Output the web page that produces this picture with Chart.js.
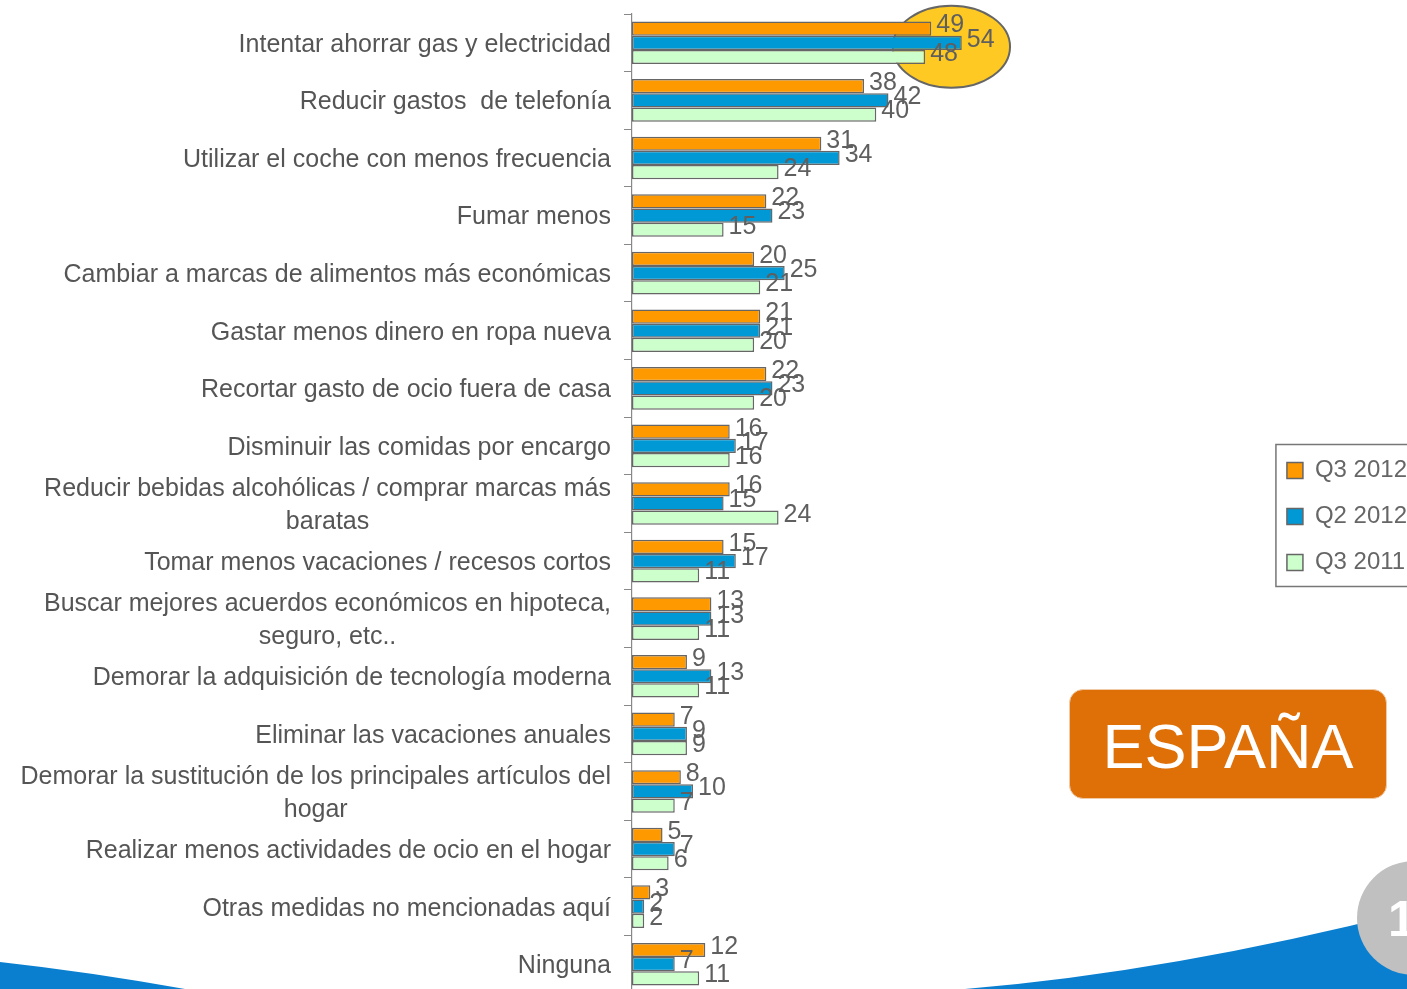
<!DOCTYPE html>
<html>
<head>
<meta charset="utf-8">
<script src="https://cdn.jsdelivr.net/npm/chart.js@4"></script>
<style>
  body { margin: 0; background: #fff; }
  #wrap { position: relative; width: 1407px; height: 989px; overflow: hidden; }
  #plot { position: absolute; left: 0; top: 0; width: 1407px; height: 994px; }
  #badge {
    position: absolute; left: 1069px; top: 689px; width: 318px; height: 110px;
    background: #df7008; border-radius: 14px; border: 1px solid #f0c9a6;
    box-sizing: border-box; color: #fff;
    font: 63px "Liberation Sans", Arial, sans-serif;
    display: flex; align-items: center; justify-content: center; padding-top: 4px;
  }
</style>
</head>
<body>
<div id="wrap">
  <div id="plot"><canvas id="barChart"></canvas></div>
  <div id="badge">ESPAÑA</div>
</div>
<script>
const categories = [
    "Intentar ahorrar gas y electricidad",
    "Reducir gastos  de telefonía",
    "Utilizar el coche con menos frecuencia",
    "Fumar menos",
    "Cambiar a marcas de alimentos más económicas",
    "Gastar menos dinero en ropa nueva",
    "Recortar gasto de ocio fuera de casa",
    "Disminuir las comidas por encargo",
    ["Reducir bebidas alcohólicas / comprar marcas más", "baratas"],
    "Tomar menos vacaciones / recesos cortos",
    ["Buscar mejores acuerdos económicos en hipoteca,", "seguro, etc.."],
    "Demorar la adquisición de tecnología moderna",
    "Eliminar las vacaciones anuales",
    ["Demorar la sustitución de los principales artículos del", "hogar"],
    "Realizar menos actividades de ocio en el hogar",
    "Otras medidas no mencionadas aquí",
    "Ninguna"
];
const seriesNames = ["Q3 2012", "Q2 2012", "Q3 2011"];
const q3_2012 = [49, 38, 31, 22, 20, 21, 22, 16, 16, 15, 13, 9, 7, 8, 5, 3, 12];
const q2_2012 = [54, 42, 34, 23, 25, 21, 23, 17, 15, 17, 13, 13, 9, 10, 7, 2, 7];
const q3_2011 = [48, 40, 24, 15, 21, 20, 20, 16, 24, 11, 11, 11, 9, 7, 6, 2, 11];

const labelFont = '25px "Liberation Sans", Arial, sans-serif';
const valueFont = '25px "Liberation Sans Narrow", "Liberation Sans", Arial, sans-serif';

// background decoration: blue swooshes and page number circle
const decoPlugin = {
    id: 'deco',
    afterLayout(chart) {
        // nudge the legend to where it sits in the slide
        const lg = chart.legend;
        lg.left += 10; lg.right += 10;
        lg.top += 13; lg.bottom += 13;
    },
    beforeDraw(chart) {
        const ctx = chart.ctx;
        const h = chart.height;
        ctx.save();
        ctx.fillStyle = '#0a7fd0';
        ctx.beginPath();
        ctx.moveTo(0, 962);
        ctx.quadraticCurveTo(90, 972, 185, 989);
        ctx.lineTo(185, h);
        ctx.lineTo(0, h);
        ctx.closePath();
        ctx.fill();
        ctx.beginPath();
        ctx.moveTo(965, 989);
        ctx.quadraticCurveTo(1170, 972, 1407, 912);
        ctx.lineTo(1407, h);
        ctx.lineTo(965, h);
        ctx.closePath();
        ctx.fill();
        ctx.fillStyle = '#c0c0c0';
        ctx.beginPath();
        ctx.arc(1414, 918, 57, 0, Math.PI * 2);
        ctx.fill();
        ctx.fillStyle = '#fff';
        ctx.font = 'bold 50px "Liberation Sans", Arial, sans-serif';
        ctx.textBaseline = 'alphabetic';
        ctx.fillText('1', 1388, 936);
        ctx.restore();
    },
    beforeDatasetsDraw(chart) {
        // yellow highlight ellipse around the first group
        const x = chart.scales.x, y = chart.scales.y;
        const ctx = chart.ctx;
        const cx = x.getPixelForValue(52.3);
        const rx = x.getPixelForValue(9.6) - x.getPixelForValue(0);
        const cy = y.getPixelForValue(0) + 4;
        ctx.save();
        ctx.fillStyle = '#fdc922';
        ctx.strokeStyle = '#666';
        ctx.lineWidth = 2;
        ctx.beginPath();
        ctx.ellipse(cx, cy, rx, 41, 0, 0, Math.PI * 2);
        ctx.fill();
        ctx.stroke();
        ctx.restore();
    }
};

// category labels, right aligned, multi-line blocks centred
const catLabelPlugin = {
    id: 'catLabels',
    afterDraw(chart) {
        const ctx = chart.ctx;
        const y = chart.scales.y;
        const right = y.right - 21;
        ctx.save();
        ctx.font = labelFont;
        ctx.fillStyle = '#555';
        ctx.textBaseline = 'middle';
        ctx.textAlign = 'center';
        categories.forEach((c, i) => {
            const lines = Array.isArray(c) ? c : [c];
            const widest = Math.max(...lines.map(l => ctx.measureText(l).width));
            const cy = y.getPixelForTick(i);
            const lh = 33;
            const y0 = cy - (lines.length - 1) * lh / 2 + 2;
            lines.forEach((l, k) => {
                ctx.fillText(l, right - widest / 2, y0 + k * lh);
            });
        });
        ctx.restore();
    }
};

// value labels right of each bar
const valueLabelPlugin = {
    id: 'valueLabels',
    afterDatasetsDraw(chart) {
        const ctx = chart.ctx;
        ctx.save();
        ctx.font = valueFont;
        ctx.fillStyle = '#5f5f5f';
        ctx.textBaseline = 'middle';
        ctx.textAlign = 'left';
        chart.data.datasets.forEach((ds, di) => {
            const meta = chart.getDatasetMeta(di);
            meta.data.forEach((bar, i) => {
                ctx.fillText(ds.data[i], bar.x + 5, bar.y - 3);
            });
        });
        ctx.restore();
    }
};

// border round the legend
const legendBoxPlugin = {
    id: 'legendBox',
    afterDraw(chart) {
        const hb = chart.legend.legendHitBoxes;
        if (!hb || !hb.length) return;
        const left = Math.min(...hb.map(h => h.left)) - 11;
        const top = Math.min(...hb.map(h => h.top)) - 14;
        const bottom = Math.max(...hb.map(h => h.top + h.height)) + 12;
        const ctx = chart.ctx;
        ctx.save();
        ctx.strokeStyle = '#777';
        ctx.lineWidth = 1.5;
        ctx.strokeRect(left, top, chart.width + 10 - left, bottom - top);
        ctx.restore();
    }
};

const ctx = document.getElementById('barChart').getContext('2d');
new Chart(ctx, {
    type: 'bar',
    data: {
        labels: categories,
        datasets: [
            { label: seriesNames[0], data: q3_2012, backgroundColor: '#ff9900' },
            { label: seriesNames[1], data: q2_2012, backgroundColor: '#0099d5' },
            { label: seriesNames[2], data: q3_2011, backgroundColor: '#ccffcc' }
        ]
    },
    options: {
        indexAxis: 'y',
        responsive: true,
        maintainAspectRatio: false,
        animation: false,
        layout: { padding: { top: 14, bottom: 1, left: 0, right: 0 } },
        datasets: {
            bar: {
                categoryPercentage: 0.74,
                barPercentage: 1.0,
                borderColor: '#666',
                borderWidth: 1.5,
                borderSkipped: false
            }
        },
        scales: {
            x: {
                display: false,
                min: 0,
                max: 102
            },
            y: {
                afterFit(scale) { scale.width = 632; },
                ticks: { display: false },
                grid: {
                    offset: true,
                    drawOnChartArea: false,
                    drawTicks: true,
                    tickLength: 8,
                    color: '#888'
                },
                border: { display: true, color: '#888', width: 1.2 }
            }
        },
        plugins: {
            legend: {
                position: 'right',
                labels: {
                    boxWidth: 16,
                    boxHeight: 16,
                    padding: 22,
                    color: '#666',
                    font: { family: '"Liberation Sans", Arial, sans-serif', size: 24 }
                }
            },
            tooltip: { enabled: false }
        }
    },
    plugins: [decoPlugin, catLabelPlugin, valueLabelPlugin, legendBoxPlugin]
});
</script>
</body>
</html>
